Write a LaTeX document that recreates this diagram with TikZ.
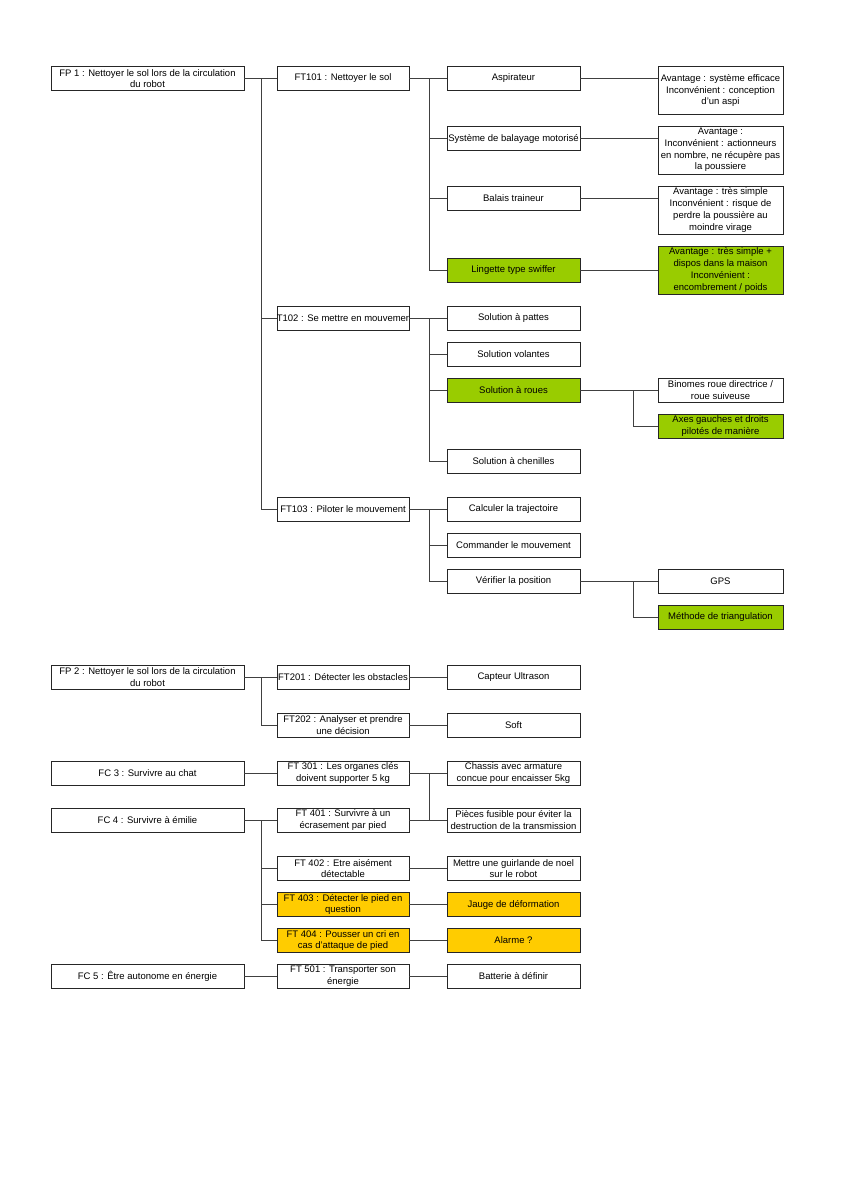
\documentclass[tikz,border=0pt]{standalone}
\usepackage{fontspec}
\setmainfont{Liberation Sans}

\tikzset{
  box/.style={draw=black!85, line width=0.9pt, align=center, inner sep=1pt,
    font=\fontsize{9.5}{11.7}\selectfont},
  fpbox/.style={box, minimum width=193pt, minimum height=24pt},
  ftbox/.style={box, minimum width=132pt, minimum height=24pt},
  solbox/.style={box, minimum width=133pt, minimum height=24pt},
  notebox/.style={box, minimum width=125pt, minimum height=48pt},
  subbox/.style={box, minimum width=125pt, minimum height=24pt},
  chosen/.style={fill=green1},
  todo/.style={fill=yellow1},
  link/.style={draw=black!75, line width=0.9pt}
}
\definecolor{green1}{HTML}{99CC00}
\definecolor{yellow1}{HTML}{FFCC00}

\begin{document}
\begin{tikzpicture}[x=1pt, y=-1pt]
    \fill[white] (0,0) rectangle (849,1200);
    \useasboundingbox (0,0) rectangle (849,1200);

    \node[fpbox](fp1) at (147.5,78.5){FP 1 : Nettoyer le sol lors de la circulation\\du robot};
    \node[ftbox](ft101) at (343,78.5){FT101 : Nettoyer le sol};
    \node[ftbox](t102) at (343,318){\makebox[128pt]{T102 : Se mettre en mouvemer}};
    \node[ftbox](ft103) at (343,509){FT103 : Piloter le mouvement};

    \node[solbox](aspi) at (513.5,78.5){Aspirateur};
    \node[solbox](balayage) at (513.5,138.5){Système de balayage motorisé};
    \node[solbox](balais) at (513.5,198){Balais traineur};
    \node[solbox, chosen](lingette) at (513.5,270){Lingette type swiffer};

    \node[notebox](av_1) at (720.5,90.5){Avantage : système efficace\\Inconvénient : conception\\d'un aspi};
    \node[notebox](av_2) at (720.5,150){Avantage :\\Inconvénient : actionneurs\\en nombre, ne récupère pas\\la poussiere};
    \node[notebox](av_3) at (720.5,210){Avantage : très simple\\Inconvénient : risque de\\perdre la poussière au\\moindre virage};
    \node[notebox, chosen](av_4) at (720.5,270){Avantage : très simple +\\dispos dans la maison\\Inconvénient :\\encombrement / poids};

    \node[solbox](pattes) at (513.5,318){Solution à pattes};
    \node[solbox](volantes) at (513.5,354){Solution volantes};
    \node[solbox, chosen](roues) at (513.5,390){Solution à roues};
    \node[solbox](chenilles) at (513.5,461.5){Solution à chenilles};
    \node[subbox](binomes) at (720.5,390){Binomes roue directrice /\\roue suiveuse};
    \node[subbox, chosen](axes) at (720.5,426){Axes gauches et droits\\pilotés de manière};

    \node[solbox](calculer) at (513.5,509){Calculer la trajectoire};
    \node[solbox](commander) at (513.5,545){Commander le mouvement};
    \node[solbox](verifier) at (513.5,581){Vérifier la position};
    \node[subbox](gps) at (720.5,581){GPS};
    \node[subbox, chosen](triangul) at (720.5,617){Méthode de triangulation};

    \node[fpbox](fp2) at (147.5,677){FP 2 : Nettoyer le sol lors de la circulation\\du robot};
    \node[ftbox](ft201) at (343,677){FT201 : Détecter les obstacles};
    \node[ftbox](ft202) at (343,725){FT202 : Analyser et prendre\\une décision};
    \node[solbox](capteur) at (513.5,677){Capteur Ultrason};
    \node[solbox](soft) at (513.5,725){Soft};

    \node[fpbox](fc3) at (147.5,773){FC 3 : Survivre au chat};
    \node[ftbox](ft301) at (343,773){FT 301 : Les organes clés\\doivent supporter 5 kg};
    \node[solbox](chassis) at (513.5,773){Chassis avec armature\\concue pour encaisser 5kg};
    \node[solbox](pieces) at (513.5,820){Pièces fusible pour éviter la\\destruction de la transmission};

    \node[fpbox](fc4) at (147.5,820){FC 4 : Survivre à émilie};
    \node[ftbox](ft401) at (343,820){FT 401 : Survivre à un\\écrasement par pied};
    \node[ftbox](ft402) at (343,868.5){FT 402 : Etre aisément\\détectable};
    \node[ftbox, todo](ft403) at (343,904.5){FT 403 : Détecter le pied en\\question};
    \node[ftbox, todo](ft404) at (343,940.5){FT 404 : Pousser un cri en\\cas d'attaque de pied};
    \node[solbox](guirlande) at (513.5,868.5){Mettre une guirlande de noel\\sur le robot};
    \node[solbox, todo](jauge) at (513.5,904.5){Jauge de déformation};
    \node[solbox, todo](alarme) at (513.5,940.5){Alarme ?};

    \node[fpbox](fc5) at (147.5,976){FC 5 : Être autonome en énergie};
    \node[ftbox](ft501) at (343,976){FT 501 : Transporter son\\énergie};
    \node[solbox](batterie) at (513.5,976){Batterie à définir};

    \draw[link](fp1)--(ft101);
    \draw[link](fp1.east)--++(16.5,0)|-(t102.west);
    \draw[link](fp1.east)--++(16.5,0)|-(ft103.west);

    \draw[link](ft101)--(aspi);
    \draw[link](ft101.east)--++(19.5,0)|-(balayage.west);
    \draw[link](ft101.east)--++(19.5,0)|-(balais.west);
    \draw[link](ft101.east)--++(19.5,0)|-(lingette.west);
    \draw[link](aspi.east)--(aspi.east-|av_1.west);
    \draw[link](balayage.east)--(balayage.east-|av_2.west);
    \draw[link](balais.east)--(balais.east-|av_3.west);
    \draw[link](lingette)--(av_4);

    \draw[link](t102)--(pattes);
    \draw[link](t102.east)--++(19.5,0)|-(volantes.west);
    \draw[link](t102.east)--++(19.5,0)|-(roues.west);
    \draw[link](t102.east)--++(19.5,0)|-(chenilles.west);
    \draw[link](roues)--(binomes);
    \draw[link](roues.east)--++(53,0)|-(axes.west);

    \draw[link](ft103)--(calculer);
    \draw[link](ft103.east)--++(19.5,0)|-(commander.west);
    \draw[link](ft103.east)--++(19.5,0)|-(verifier.west);
    \draw[link](verifier)--(gps);
    \draw[link](verifier.east)--++(53,0)|-(triangul.west);

    \draw[link](fp2)--(ft201);
    \draw[link](fp2.east)--++(16.5,0)|-(ft202.west);
    \draw[link](ft201)--(capteur);
    \draw[link](ft202)--(soft);

    \draw[link](fc3)--(ft301);
    \draw[link](ft301)--(chassis);
    \draw[link](ft301.east)--++(19.5,0)|-(pieces.west);

    \draw[link](fc4)--(ft401);
    \draw[link](fc4.east)--++(16.5,0)|-(ft402.west);
    \draw[link](fc4.east)--++(16.5,0)|-(ft403.west);
    \draw[link](fc4.east)--++(16.5,0)|-(ft404.west);
    \draw[link](ft401)--(pieces);
    \draw[link](ft402)--(guirlande);
    \draw[link](ft403)--(jauge);
    \draw[link](ft404)--(alarme);

    \draw[link](fc5)--(ft501);
    \draw[link](ft501)--(batterie);
  \end{tikzpicture}
\end{document}
